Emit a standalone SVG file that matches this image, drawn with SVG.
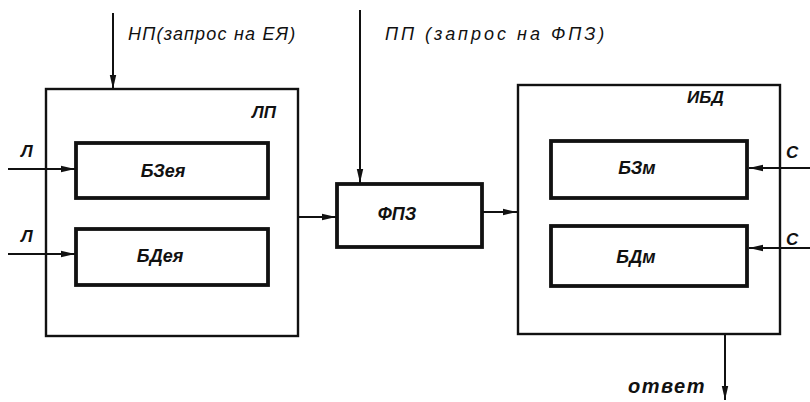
<svg xmlns="http://www.w3.org/2000/svg" width="810" height="402" viewBox="0 0 810 402">
  <defs>
    <marker id="ah" viewBox="0 0 14 8" refX="14" refY="4" markerWidth="14" markerHeight="8" markerUnits="userSpaceOnUse" orient="auto">
      <path d="M0,0.8 L14,4 L0,7.2 Z" fill="#111"/>
    </marker>
  </defs>
  <style>
    .outer { fill: none; stroke: #111; stroke-width: 2.4; }
    .inner { fill: none; stroke: #111; stroke-width: 3.8; }
    .wire { fill: none; stroke: #111; stroke-width: 2; marker-end: url(#ah); }
    .t { font-family: "Liberation Sans", "DejaVu Sans", sans-serif; font-style: italic; font-weight: bold; font-size: 17px; fill: #111; }
    .c { text-anchor: middle; font-size: 18px; }
  </style>
  <rect width="810" height="402" fill="#fff"/>

  <!-- connectors and their labels -->
  <g id="connectors">
    <path class="wire" d="M113,13 V89"/>
    <path class="wire" d="M360,10 V183"/>
    <path class="wire" d="M8,169 H75"/>
    <path class="wire" d="M8,254 H75"/>
    <path class="wire" d="M298,217 H336"/>
    <path class="wire" d="M483,212 H517"/>
    <path class="wire" d="M810,168 H749"/>
    <path class="wire" d="M810,248 H749"/>
    <path class="wire" d="M725,334 V400"/>
    <text class="t" x="128" y="40" style="font-weight:normal;font-size:18px;letter-spacing:1.2px">НП(запрос на ЕЯ)</text>
    <text class="t" x="385" y="40" style="font-weight:normal;font-size:18px;letter-spacing:3px">ПП (запрос на ФПЗ)</text>
    <text class="t" x="21" y="157">Л</text>
    <text class="t" x="21" y="242">Л</text>
    <text class="t" x="786" y="158">С</text>
    <text class="t" x="786" y="245">С</text>
    <text class="t" x="628" y="393" style="font-size:20px;letter-spacing:1.5px">ответ</text>
  </g>

  <!-- ЛП block -->
  <g id="lp">
    <rect class="outer" x="46" y="89" width="252" height="247"/>
    <text class="t" x="252" y="118">ЛП</text>
  </g>
  <g id="bzeya">
    <rect class="inner" x="76" y="143" width="192" height="55"/>
    <text class="t c" x="163" y="177">БЗея</text>
  </g>
  <g id="bdeya">
    <rect class="inner" x="76" y="229" width="192" height="56"/>
    <text class="t c" x="160" y="262">БДея</text>
  </g>

  <!-- ФПЗ block -->
  <g id="fpz">
    <rect class="inner" x="337" y="184" width="145" height="63"/>
    <text class="t c" x="397" y="220">ФПЗ</text>
  </g>

  <!-- ИБД block -->
  <g id="ibd">
    <rect class="outer" x="518" y="85" width="262" height="249"/>
    <text class="t" x="687" y="103">ИБД</text>
  </g>
  <g id="bzm">
    <rect class="inner" x="551" y="141" width="196" height="57"/>
    <text class="t c" x="637" y="174">БЗм</text>
  </g>
  <g id="bdm">
    <rect class="inner" x="551" y="226" width="196" height="60"/>
    <text class="t c" x="636" y="263">БДм</text>
  </g>
</svg>
